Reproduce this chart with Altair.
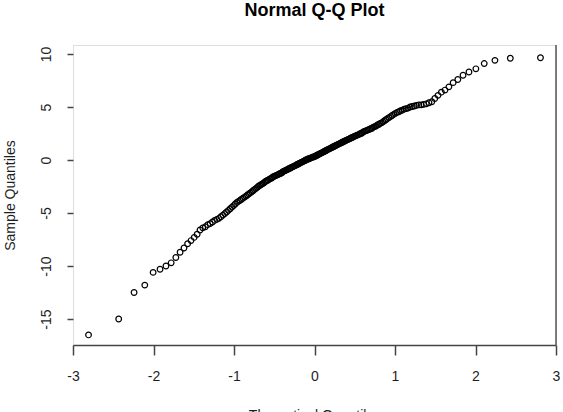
import altair as alt
import pandas as pd

# ---- chart text and ticks ----
title_text = "Normal Q-Q Plot"
x_title = "Theoretical Quantiles"
y_title = "Sample Quantiles"
x_ticks = [-3, -2, -1, 0, 1, 2, 3]
y_ticks = [-15, -10, -5, 0, 5, 10]

# ---- sample values (sorted) ----
sample_low = [
    -16.5, -15.0, -12.5, -11.8, -10.6, -10.3, -10.0, -9.7, -9.2, -8.7,
    -8.3, -7.9, -7.6, -7.3, -7.0, -6.6, -6.4, -6.3, -6.1, -6.0,
    -5.85, -5.7, -5.6, -5.5, -5.35, -5.2, -5.05, -4.9, -4.75, -4.6,
    -4.45, -4.3, -4.15, -4.0, -3.9, -3.8, -3.7, -3.6, -3.5, -3.4,
    -3.3, -3.2, -3.1, -3.0, -2.9, -2.8, -2.7, -2.6, -2.5, -2.4,
    -2.35, -2.25, -2.2, -2.1, -2.0, -1.95, -1.9, -1.8, -1.75, -1.7,
    -1.6, -1.55, -1.5, -1.45, -1.4, -1.35, -1.3, -1.25, -1.2, -1.1,
    -1.05, -1.0, -0.95, -0.9, -0.85, -0.8, -0.75, -0.7, -0.65, -0.6,
    -0.55, -0.5, -0.45, -0.4, -0.35, -0.3, -0.25, -0.2, -0.15, -0.1,
    -0.05, 0.0, 0.05, 0.1, 0.12, 0.15, 0.2, 0.25, 0.28, 0.3,
]
sample_high = [
    0.35, 0.4, 0.45, 0.5, 0.55, 0.6, 0.65, 0.7, 0.75, 0.8,
    0.85, 0.9, 0.95, 1.0, 1.05, 1.1, 1.15, 1.2, 1.25, 1.3,
    1.35, 1.4, 1.45, 1.5, 1.55, 1.6, 1.65, 1.7, 1.75, 1.8,
    1.85, 1.9, 1.95, 2.0, 2.05, 2.1, 2.15, 2.2, 2.25, 2.3,
    2.35, 2.4, 2.45, 2.5, 2.55, 2.65, 2.7, 2.75, 2.8, 2.85,
    2.9, 2.95, 3.0, 3.1, 3.15, 3.2, 3.3, 3.35, 3.45, 3.5,
    3.6, 3.7, 3.8, 3.9, 4.0, 4.1, 4.2, 4.3, 4.4, 4.5,
    4.55, 4.65, 4.7, 4.8, 4.85, 4.9, 5.0, 5.05, 5.1, 5.15,
    5.2, 5.2, 5.25, 5.3, 5.4, 5.5, 5.8, 6.1, 6.4, 6.6,
    6.9, 7.3, 7.6, 8.0, 8.3, 8.6, 9.1, 9.4, 9.6, 9.65,
]
sample = sample_low + sample_high

df = pd.DataFrame({"sample": sample})

W, H = 483, 300
FONT = "Liberation Sans"
TXT = "#1e1e1e"
AX = "#444444"

points = (
    alt.Chart(df)
    .transform_window(rank="row_number()", sort=[alt.SortField("sample", order="ascending")])
    .transform_joinaggregate(n="count()")
    .transform_calculate(theoretical="quantileNormal((datum.rank - 0.5) / datum.n)")
    .mark_point(shape="circle", filled=False, color="black", size=32, strokeWidth=1.2, opacity=1)
    .encode(
        x=alt.X(
            "theoretical:Q",
            scale=alt.Scale(domain=[-3, 3], nice=False, zero=False),
            axis=alt.Axis(
                values=x_ticks,
                labelExpr="'' + datum.value",
                title=x_title,
                grid=False,
                tickSize=10,
                tickColor=AX,
                tickWidth=1.5,
                domainColor=AX,
                domainWidth=1.5,
                labelFont=FONT,
                labelFontSize=14,
                labelColor=TXT,
                labelPadding=14,
                labelFlush=False,
                labelOverlap=False,
                titleFont=FONT,
                titleFontSize=14,
                titleFontWeight="normal",
                titleColor=TXT,
                titleY=63,
                titleBaseline="top",
            ),
        ),
        y=alt.Y(
            "sample:Q",
            scale=alt.Scale(domain=[-17.45, 10.85], nice=False, zero=False),
            axis=alt.Axis(
                values=y_ticks,
                labelExpr="'' + datum.value",
                title=y_title,
                grid=False,
                domain=False,
                tickSize=6,
                tickColor=AX,
                tickWidth=1.5,
                labelAngle=270,
                labelAlign="center",
                labelBaseline="bottom",
                labelFont=FONT,
                labelFontSize=14,
                labelColor=TXT,
                labelPadding=14,
                labelFlush=False,
                labelOverlap=False,
                titleFont=FONT,
                titleFontSize=14,
                titleFontWeight="normal",
                titleColor=TXT,
                titleAngle=270,
                titleAlign="center",
                titleBaseline="alphabetic",
                titleX=-59,
                titleY=150,
            ),
        ),
    )
)

border = (
    alt.Chart(pd.DataFrame({"k": [0]}))
    .mark_rule(color="#555555", strokeWidth=1.5)
    .encode(x=alt.value(W), y=alt.value(0), y2=alt.value(H))
)

chart = (
    alt.layer(points, border)
    .properties(
        width=W,
        height=H,
        title=alt.TitleParams(
            title_text,
            font=FONT,
            fontSize=18,
            fontWeight="bold",
            color="black",
            anchor="middle",
            baseline="alphabetic",
            offset=10,
        ),
        autosize=alt.AutoSizeParams(type="none"),
        padding={"left": 73, "top": 45, "right": 7, "bottom": 67},
    )
    .configure_view(stroke=None)
    .configure(background="white")
)

chart.save("out.html", embed_options={"renderer": "svg", "actions": False})
